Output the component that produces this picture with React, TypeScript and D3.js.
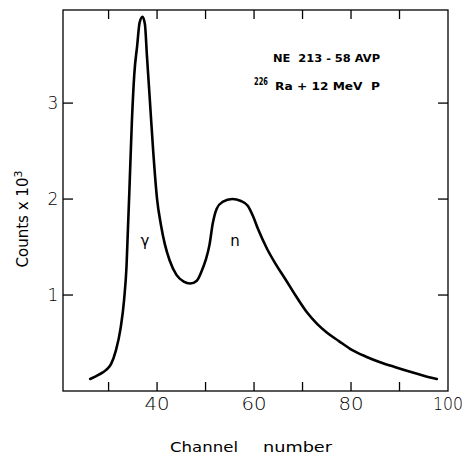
import React from "react";
import * as d3 from "d3";

const channels = [26.2, 28, 29.5, 30.5, 31.5, 32.5, 33.2, 33.7, 34.0, 34.3, 34.8, 35.3, 35.9, 36.4, 37.0, 37.5, 37.9, 38.5, 39.2, 40.0, 40.8, 41.6, 42.6, 44.0, 45.5, 46.8, 48.2, 49.2, 50.0, 50.8, 51.5, 52.3, 53.5, 55.5, 57.3, 58.7, 59.8, 60.8, 62.7, 64.5, 66.4, 68.5, 70.9, 73, 75, 77.5, 79.8, 83, 86, 89, 92.2, 95, 97.7];
const counts = [0.125, 0.17, 0.22, 0.28, 0.42, 0.66, 0.95, 1.3, 1.7, 2.1, 2.8, 3.3, 3.6, 3.84, 3.9, 3.82, 3.5, 3.04, 2.5, 2.0, 1.73, 1.53, 1.36, 1.21, 1.14, 1.12, 1.15, 1.25, 1.36, 1.52, 1.75, 1.9, 1.97, 2.0, 1.98, 1.93, 1.82, 1.69, 1.48, 1.32, 1.17, 1.0, 0.82, 0.7, 0.61, 0.52, 0.44, 0.36, 0.30, 0.25, 0.2, 0.16, 0.125];

const xTickLabels = [40, 60, 80, 100];
const xMinorTicks = [30, 40, 50, 60, 70, 80, 90];
const yTickLabels = [1, 2, 3];

const W = 466, H = 457;
const left = 63, right = 448, top = 10, bottom = 391;

export default function App() {
  const x = d3.scaleLinear().domain([20.6, 100]).range([left, right]);
  const y = d3.scaleLinear().domain([0, 3.97]).range([bottom, top]);
  const pts: [number, number][] = channels.map((c, i) => [c, counts[i]]);
  const line = d3.line<[number, number]>().x(d => x(d[0])).y(d => y(d[1])).curve(d3.curveMonotoneX);
  const font = "'DejaVu Sans', sans-serif";
  return (
    <svg width={W} height={H} style={{ position: "absolute", left: 0, top: 0, background: "#fff" }}>
      <rect x={left} y={top} width={right - left} height={bottom - top} fill="none" stroke="#000" strokeWidth={1.3} />
      {xMinorTicks.map(t => (
        <g key={"xt" + t}>
          <line x1={x(t)} x2={x(t)} y1={bottom} y2={bottom - 9} stroke="#000" strokeWidth={1.3} />
          <line x1={x(t)} x2={x(t)} y1={top} y2={top + 9} stroke="#000" strokeWidth={1.3} />
        </g>
      ))}
      {yTickLabels.map(t => (
        <g key={"yt" + t}>
          <line x1={left} x2={left + 10} y1={y(t)} y2={y(t)} stroke="#000" strokeWidth={1.3} />
          <line x1={right} x2={right - 10} y1={y(t)} y2={y(t)} stroke="#000" strokeWidth={1.3} />
          <text x={53} y={y(t)} dy="0.36em" textAnchor="middle" fontFamily={font} fontSize={17} fontWeight={300}>{t}</text>
        </g>
      ))}
      {xTickLabels.map(t => (
        <text key={"xl" + t} x={x(t)} y={410} textAnchor="middle" fontFamily={font} fontSize={17} fontWeight={300}
          textLength={t === 100 ? 30 : 25} lengthAdjust="spacingAndGlyphs">{t}</text>
      ))}
      <path d={line(pts) || ""} fill="none" stroke="#000" strokeWidth={2.6} strokeLinejoin="round" strokeLinecap="round" />
      <text x={145} y={246} textAnchor="middle" fontFamily={font} fontSize={15}>γ</text>
      <text x={235} y={246} textAnchor="middle" fontFamily={font} fontSize={15}>n</text>
      <text x={273} y={62} fontFamily={font} fontSize={11} fontWeight="bold" textLength={107} lengthAdjust="spacingAndGlyphs" style={{ whiteSpace: "pre" }}>{"NE  213 - 58 AVP"}</text>
      <text x={254} y={85} fontFamily={font} fontSize={10} fontWeight="bold" textLength={14} lengthAdjust="spacingAndGlyphs">226</text>
      <text x={275} y={90} fontFamily={font} fontSize={11} fontWeight="bold" textLength={105} lengthAdjust="spacingAndGlyphs" style={{ whiteSpace: "pre" }}>{"Ra + 12 MeV  P"}</text>
      <text transform="translate(28,219) rotate(-90)" textAnchor="middle" fontFamily={font} fontSize={15}>
        Counts x 10<tspan dy="-6" fontSize={11}>3</tspan>
      </text>
      <text x={170} y={452} fontFamily={font} fontSize={14} textLength={68} lengthAdjust="spacingAndGlyphs">Channel</text>
      <text x={263} y={452} fontFamily={font} fontSize={14} textLength={69} lengthAdjust="spacingAndGlyphs">number</text>
    </svg>
  );
}
